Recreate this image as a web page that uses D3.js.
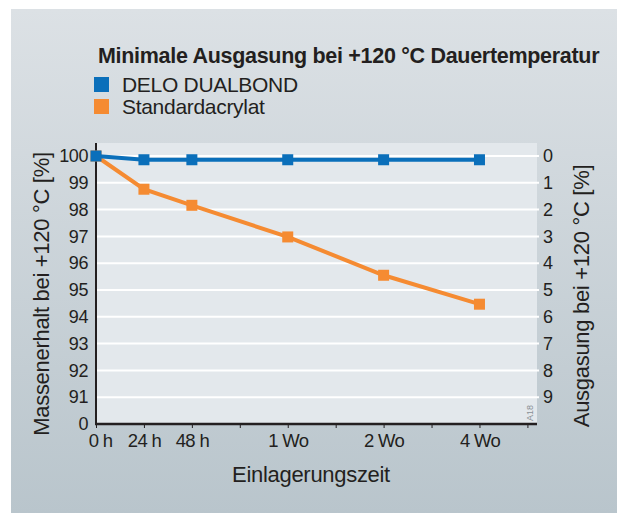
<!DOCTYPE html>
<html>
<head>
<meta charset="utf-8">
<script src="https://cdn.jsdelivr.net/npm/d3@7"></script>
<style>
  body { margin: 0; background: #fff; }
  text { font-family: "Liberation Sans", Arial, sans-serif; fill: #231f20; }
</style>
</head>
<body>
<div id="chart"></div>
<script>
// Data
const xSlots = ["0 h", "24 h", "48 h", "", "1 Wo", "", "2 Wo", "", "4 Wo", ""]
const categories = ["0 h", "24 h", "48 h", "1 Wo", "2 Wo", "4 Wo"]
const deloValues = [100, 99.86, 99.86, 99.86, 99.86, 99.86]
const acrylValues = [100, 98.76, 98.16, 96.98, 95.55, 94.47]
const leftTicks = [90, 91, 92, 93, 94, 95, 96, 97, 98, 99, 100]
const rightTicks = [91, 92, 93, 94, 95, 96, 97, 98, 99, 100]
const seriesNames = ["DELO DUALBOND", "Standardacrylat"]
const colors = ["#0a6fba", "#f58b32"]

// Dimensions
let width = 617, height = 513,
    plot = { left: 96, right: 537, top: 143, bottom: 424 }

const svg = d3.select('#chart')
    .append('svg')
    .attr('width', width)
    .attr('height', height)

let defs = svg.append('defs')
let grad = defs.append('linearGradient')
    .attr('id', 'bg')
    .attr('x1', 0).attr('y1', 0).attr('x2', 0).attr('y2', 1)
grad.append('stop').attr('offset', '0%').attr('stop-color', '#dce1e5')
grad.append('stop').attr('offset', '100%').attr('stop-color', '#b9c5cc')

svg.append('rect')
    .attr('x', 11).attr('y', 9)
    .attr('width', width - 11).attr('height', height - 9)
    .attr('fill', 'url(#bg)')

// Scales
let x = d3.scaleLinear().domain([0, 9.2]).range([plot.left, plot.right])
let y = d3.scaleLinear().domain([90, 100]).range([plot.bottom, 156])
let yTop = y.invert(plot.top)
let xPos = c => x(xSlots.indexOf(c))

// Plot background
svg.append('rect')
    .attr('x', plot.left).attr('y', plot.top)
    .attr('width', plot.right - plot.left).attr('height', plot.bottom - plot.top)
    .attr('fill', '#e3e8ec')

// Grid
svg.append('g')
    .selectAll('line')
    .data(rightTicks)
    .enter()
    .append('line')
    .attr('x1', plot.left)
    .attr('x2', plot.right + 2)
    .attr('y1', d => y(d))
    .attr('y2', d => y(d))
    .attr('stroke', '#fff')
    .attr('stroke-width', 2)

// Left axis
let yAxis = svg.append('g')
    .attr('transform', 'translate(' + plot.left + ',0)')
    .call(d3.axisLeft(y).tickValues(leftTicks).tickSize(0).tickPadding(8)
        .tickFormat(d => d === 90 ? '0' : d))
yAxis.select('.domain').remove()
yAxis.selectAll('text')
    .attr('font-size', 18)
    .attr('fill', '#231f20')
    .attr('letter-spacing', -0.4)

// Right axis
let yAxisR = svg.append('g')
    .attr('transform', 'translate(' + plot.right + ',0)')
    .call(d3.axisRight(y).tickValues(rightTicks).tickSize(0).tickPadding(6)
        .tickFormat(d => 100 - d))
yAxisR.select('.domain').remove()
yAxisR.selectAll('text')
    .attr('font-size', 18)
    .attr('fill', '#231f20')

// X axis
let xAxis = svg.append('g')
    .attr('transform', 'translate(0,' + plot.bottom + ')')
    .call(d3.axisBottom(x).tickValues(d3.range(xSlots.length)).tickSize(4).tickPadding(6)
        .tickFormat(i => xSlots[i]))
xAxis.select('.domain').remove()
xAxis.selectAll('line').attr('stroke', '#231f20').attr('stroke-width', 1)
xAxis.selectAll('text')
    .attr('font-size', 18.5)
    .attr('fill', '#231f20')
    .attr('letter-spacing', -0.7)
    .attr('dx', (d, i) => i === 0 ? 4 : 0)

// axis lines
svg.append('line')
    .attr('x1', plot.left - 1).attr('x2', plot.right)
    .attr('y1', plot.bottom).attr('y2', plot.bottom)
    .attr('stroke', '#231f20').attr('stroke-width', 2.5)
svg.append('line')
    .attr('x1', plot.left).attr('x2', plot.left)
    .attr('y1', y(yTop)).attr('y2', plot.bottom)
    .attr('stroke', '#231f20').attr('stroke-width', 2)

// Series
let series = [deloValues, acrylValues]
let line = d3.line()
    .x((d, i) => xPos(categories[i]))
    .y(d => y(d))

series.slice().reverse().forEach((vals, k) => {
    let idx = series.length - 1 - k
    svg.append('path')
        .datum(vals)
        .attr('d', line)
        .attr('fill', 'none')
        .attr('stroke', colors[idx])
        .attr('stroke-width', 4)
    svg.append('g')
        .selectAll('rect')
        .data(vals)
        .enter()
        .append('rect')
        .attr('x', (d, i) => xPos(categories[i]) - 5.5)
        .attr('y', d => y(d) - 5.5)
        .attr('width', 11)
        .attr('height', 11)
        .attr('fill', colors[idx])
})

// Title
svg.append('text')
    .attr('x', 98).attr('y', 62.5)
    .attr('font-size', 21.5)
    .attr('font-weight', 'bold')
    .attr('letter-spacing', -0.3)
    .text('Minimale Ausgasung bei +120 °C Dauertemperatur')

// Legend
let legend = svg.append('g')
    .selectAll('g')
    .data(seriesNames)
    .enter()
    .append('g')
    .attr('transform', (d, i) => 'translate(94,' + (77 + i * 22) + ')')
legend.append('rect')
    .attr('width', 15).attr('height', 15)
    .attr('fill', (d, i) => colors[i])
legend.append('text')
    .attr('x', 28).attr('y', 15)
    .attr('font-size', 21)
    .attr('letter-spacing', -0.3)
    .text(d => d)

// Axis titles
svg.append('text')
    .attr('transform', 'translate(49,294) rotate(-90)')
    .attr('text-anchor', 'middle')
    .attr('font-size', 22)
    .attr('letter-spacing', -0.3)
    .text('Massenerhalt bei +120 °C [%]')
svg.append('text')
    .attr('transform', 'translate(589,296) rotate(-90)')
    .attr('text-anchor', 'middle')
    .attr('font-size', 22)
    .attr('letter-spacing', -0.3)
    .text('Ausgasung bei +120 °C [%]')
svg.append('text')
    .attr('x', 311).attr('y', 482)
    .attr('text-anchor', 'middle')
    .attr('font-size', 22)
    .attr('letter-spacing', -0.3)
    .text('Einlagerungszeit')

// small code
svg.append('text')
    .attr('transform', 'translate(533,421) rotate(-90)')
    .attr('font-size', 9)
    .style('fill', '#8a9096')
    .text('A18')
</script>
</body>
</html>
